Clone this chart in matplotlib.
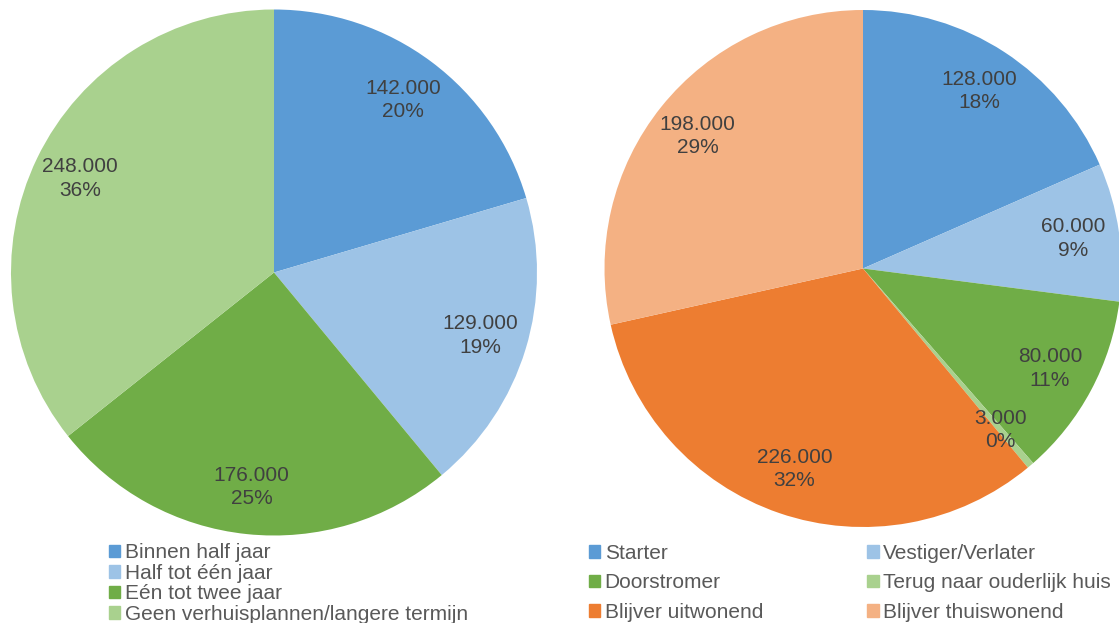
import matplotlib.pyplot as plt
from matplotlib.patches import Patch

plt.rcParams['font.family'] = ['Liberation Sans', 'DejaVu Sans']

# left pie: verhuistermijn
termijn = ["Binnen half jaar", "Half tot één jaar", "Eén tot twee jaar",
           "Geen verhuisplannen/langere termijn"]
termijn_val = [142, 129, 176, 248]
termijn_pct = [20, 19, 25, 36]
termijn_col = ["#5B9BD5", "#9DC3E6", "#70AD47", "#A9D18E"]

# right pie: type verhuizer
typen = ["Starter", "Vestiger/Verlater", "Doorstromer", "Terug naar ouderlijk huis",
         "Blijver uitwonend", "Blijver thuiswonend"]
typen_val = [128, 60, 80, 3, 226, 198]
typen_pct = [18, 9, 11, 0, 32, 29]
typen_col = ["#5B9BD5", "#9DC3E6", "#70AD47", "#A9D18E", "#ED7D31", "#F4B183"]

W, H = 1119, 623
fig = plt.figure(figsize=(W / 100, H / 100), dpi=100)


def pie_axes(cx, cy, r):
    return fig.add_axes([(cx - r) / W, (H - cy - r) / H, 2 * r / W, 2 * r / H])


def draw_pie(ax, vals, pcts, cols):
    wedges, texts, autotexts = ax.pie(vals, colors=cols, startangle=90, counterclock=False,
                                      radius=1, autopct='%1.0f', pctdistance=0.82,
                                      wedgeprops=dict(linewidth=0))
    for t, v, p in zip(autotexts, vals, pcts):
        t.set_text(f"{v}.000\n{p}%")
        t.set_fontsize(15)
        t.set_color("#404040")
        t.set_linespacing(1.3)
    ax.set_xlim(-1, 1)
    ax.set_ylim(-1, 1)
    ax.set_aspect('equal')
    ax.axis('off')


ax1 = pie_axes(274, 272.5, 263)
draw_pie(ax1, termijn_val, termijn_pct, termijn_col)
ax2 = pie_axes(863, 268.5, 258.5)
draw_pie(ax2, typen_val, typen_pct, typen_col)

h1 = [Patch(color=c) for c in termijn_col]
fig.legend(h1, termijn, loc='upper left', bbox_to_anchor=(109 / W, 1 - 543.5 / H),
           frameon=False, fontsize=15, labelcolor="#595959", ncol=1,
           handlelength=0.55, handleheight=0.55, handletextpad=0.2,
           labelspacing=0.07, borderpad=0, borderaxespad=0)

# legend fills row by row in the original -> reorder for matplotlib's column fill
order = [0, 2, 4, 1, 3, 5]
h2 = [Patch(color=typen_col[i]) for i in order]
fig.legend(h2, [typen[i] for i in order], loc='upper left',
           bbox_to_anchor=(589 / W, 1 - 544 / H),
           frameon=False, fontsize=15, labelcolor="#595959", ncol=2,
           handlelength=0.55, handleheight=0.55, handletextpad=0.2,
           labelspacing=0.5, columnspacing=5.0, borderpad=0, borderaxespad=0)

fig.savefig("out.png", dpi=100)
